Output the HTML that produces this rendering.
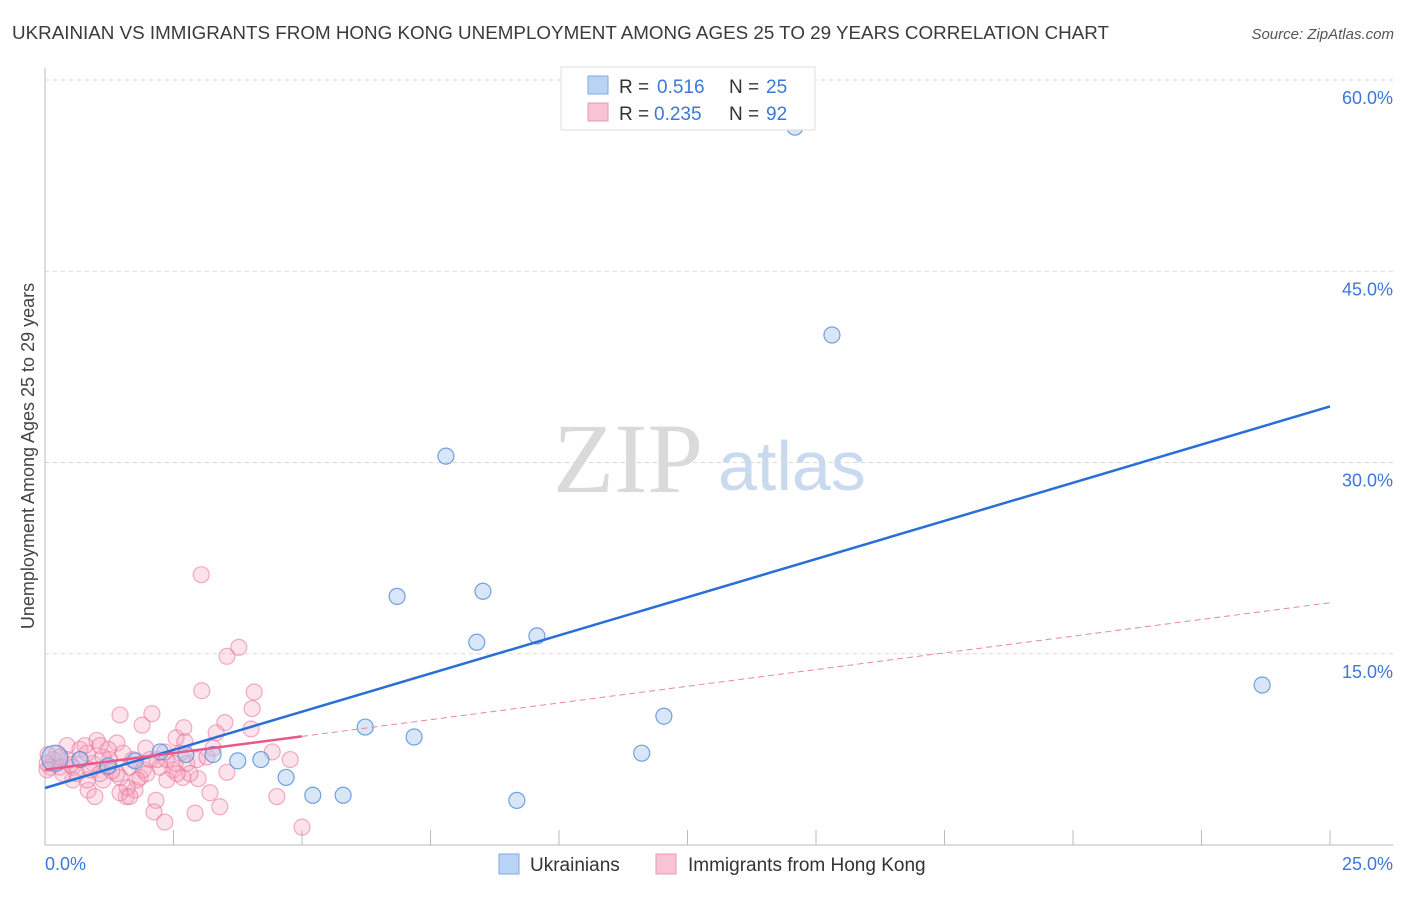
<!DOCTYPE html>
<html><head><meta charset="utf-8"><style>
body{margin:0;background:#fff;font-family:"Liberation Sans",sans-serif;}
svg text{font-family:"Liberation Sans",sans-serif;}
svg text.serif{font-family:"Liberation Serif",serif;}
</style></head><body>
<svg id="chart" width="1406" height="892" xmlns="http://www.w3.org/2000/svg">
<text x="12" y="39" font-size="18" fill="#3a3a3a" textLength="1097" lengthAdjust="spacingAndGlyphs">UKRAINIAN VS IMMIGRANTS FROM HONG KONG UNEMPLOYMENT AMONG AGES 25 TO 29 YEARS CORRELATION CHART</text>
<text x="1394" y="39" font-size="15" fill="#555" text-anchor="end" font-style="italic">Source: ZipAtlas.com</text>
<g>
<text class="serif" x="553" y="492" font-size="100" fill="#dadada">ZIP</text>
<text x="718" y="490" font-size="70" fill="#c9d9ef">atlas</text>
</g>
<g id="grid"></g><g id="axes"></g><g id="pink"></g><g id="blue"></g><g id="lines"></g>
<text transform="translate(34,456) rotate(-90)" font-size="18" fill="#444" text-anchor="middle">Unemployment Among Ages 25 to 29 years</text>
<text x="45" y="870" font-size="18" fill="#3b78d8">0.0%</text>
<text x="1393" y="870" font-size="18" fill="#3b78d8" text-anchor="end">25.0%</text>
<g>
<rect x="561" y="67" width="254" height="63" fill="#fff" stroke="#ddd"/>
<rect x="588" y="76" width="20" height="18" fill="#b9d3f5" stroke="#7fa8e0"/>
<rect x="588" y="103" width="20" height="18" fill="#f8c3d3" stroke="#e89ab3"/>
<text x="619" y="93" font-size="19" fill="#333">R =</text>
<text x="657" y="93" font-size="19" fill="#3b78d8">0.516</text>
<text x="729" y="93" font-size="19" fill="#333">N =</text>
<text x="766" y="93" font-size="19" fill="#3b78d8">25</text>
<text x="619" y="120" font-size="19" fill="#333">R =</text>
<text x="654" y="120" font-size="19" fill="#3b78d8">0.235</text>
<text x="729" y="120" font-size="19" fill="#333">N =</text>
<text x="766" y="120" font-size="19" fill="#3b78d8">92</text>
</g>
<g>
<rect x="499" y="854" width="20" height="20" fill="#b9d3f5" stroke="#7fa8e0"/>
<text x="530" y="871" font-size="19" fill="#333">Ukrainians</text>
<rect x="656" y="854" width="20" height="20" fill="#f8c3d3" stroke="#e89ab3"/>
<text x="688" y="871" font-size="19" fill="#333">Immigrants from Hong Kong</text>
</g>
</svg>
<script>
const yTicks=[15,30,45,60];
const yTickLabels=["15.0%","30.0%","45.0%","60.0%"];
const xTicks=[0,2.5,5,7.5,10,12.5,15,17.5,20,22.5,25];
const blueX=[14.59,15.31,7.80,6.85,8.52,8.40,9.57,23.68,6.23,7.18,12.04,11.61,9.18,5.21,5.80,4.69,4.20,3.75,3.27,2.24,0.19,0.68,1.23,1.75,2.74];
const blueY=[56.3,40.0,30.5,19.5,19.9,15.9,16.4,12.55,9.25,8.47,10.1,7.2,3.5,3.9,3.9,5.3,6.7,6.6,7.1,7.3,6.8,6.7,6.2,6.6,7.1];
const pinkX=[3.04,3.77,3.54,3.05,4.07,4.03,1.46,2.08,1.89,2.70,3.50,3.33,4.01,1.01,1.40,0.43,2.55,1.96,1.23,0.68,4.42,4.77,3.54,2.98,3.21,3.40,4.51,2.16,2.12,2.33,2.92,5.00,1.58,1.75,0.84,0.54,0.82,1.13,1.46,1.85,1.91,2.24,2.49,2.68,2.76,2.37,1.65,1.40,1.21,0.93,0.68,0.43,0.16,0.10,0.29,0.23,0.54,0.88,1.07,1.26,1.52,1.71,2.04,1.79,1.60,1.46,1.65,0.62,0.35,0.04,0.04,1.98,2.18,2.63,2.96,3.15,2.37,2.53,2.82,2.57,0.82,1.13,0.29,0.78,2.33,2.72,3.27,1.07,0.06,0.97,1.30,0.50];
const pinkY=[21.2,15.5,14.8,12.1,12.0,10.7,10.2,10.3,9.4,9.2,9.6,8.8,9.1,8.2,8.0,7.8,8.4,7.6,7.5,7.5,7.3,6.7,5.7,5.2,4.1,3.0,3.8,3.5,2.6,1.8,2.5,1.4,3.8,4.3,4.3,5.1,5.1,5.1,5.3,5.3,5.9,6.1,5.9,5.3,6.4,6.7,6.1,5.6,6.1,6.4,6.7,6.7,6.7,6.1,6.1,7.2,6.1,5.9,5.6,6.7,7.2,6.7,6.7,5.1,4.5,4.1,3.8,5.6,5.6,6.4,5.9,5.6,6.7,7.2,6.7,6.9,5.1,6.4,5.6,5.6,7.2,6.9,6.9,7.8,7.3,8.1,7.6,7.8,7.1,3.8,5.8,6.3];
const blueTrend=[4.47,34.4];
const pinkTrend=[5.9,19.0];
const pinkSolidEnd=5;
const NS="http://www.w3.org/2000/svg";
const X=v=>45+v/25*1285, Y=v=>845-v/60*765;
function mk(t,a,p){const e=document.createElementNS(NS,t);for(const k in a)e.setAttribute(k,a[k]);document.getElementById(p).appendChild(e);return e;}
yTicks.forEach((t,i)=>{
 const g=mk('line',{x1:45,x2:1393,y1:Y(t),y2:Y(t),stroke:'#d8d8d8','stroke-dasharray':'4,4'},'grid');
 
 
 const l=mk('text',{x:1393,y:Y(t)+24,'font-size':18,fill:'#3b78d8','text-anchor':'end'},'grid');
 
 
 l.textContent=yTickLabels[i];
});
const ya=mk('line',{x1:45,x2:45,y1:68,y2:845,stroke:'#bbb'},'axes');


const xa=mk('line',{x1:45,x2:1393,y1:845,y2:845,stroke:'#bbb'},'axes');


xTicks.forEach(t=>{const e=mk('line',{x1:X(t),x2:X(t),y1:830,y2:845,stroke:'#bbb'},'axes');
 
 });
pinkX.forEach((v,i)=>{const c=mk('circle',{cx:X(v),cy:Y(pinkY[i]),r:8,fill:'rgba(244,160,188,0.3)',stroke:'rgba(232,110,150,0.55)','stroke-width':1.2},'pink');
 
 });
blueX.forEach((v,i)=>{const c=mk('circle',{cx:X(v),cy:Y(blueY[i]),r:i==20?13:8,fill:'rgba(170,200,240,0.45)',stroke:'rgba(80,140,220,0.8)','stroke-width':1.2},'blue');
 
 });
const bl=mk('line',{x1:X(0),y1:Y(blueTrend[0]),x2:X(25),y2:Y(blueTrend[1]),stroke:'#2a6fd6','stroke-width':2.5},'lines');


const pe=pinkTrend[0]+(pinkTrend[1]-pinkTrend[0])*pinkSolidEnd/25;
const pl=mk('line',{x1:X(0),y1:Y(pinkTrend[0]),x2:X(pinkSolidEnd),y2:Y(pe),stroke:'#e8588a','stroke-width':2.5},'lines');


const pd=mk('line',{x1:X(pinkSolidEnd),y1:Y(pe),x2:X(25),y2:Y(pinkTrend[1]),stroke:'#e8869f','stroke-width':1,'stroke-dasharray':'6,4'},'lines');


</script>
</body></html>
